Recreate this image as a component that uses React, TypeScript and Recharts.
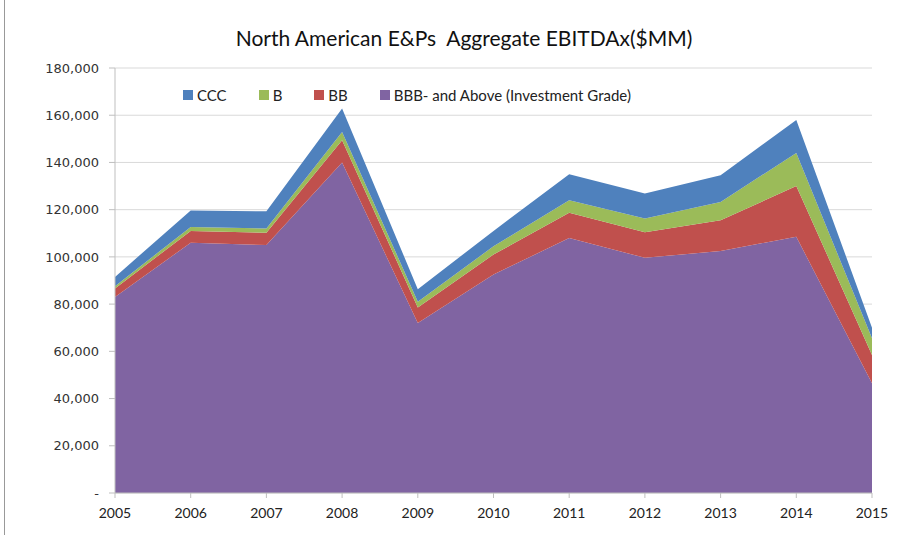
import {
  AreaChart,
  Area,
  XAxis,
  YAxis,
  CartesianGrid,
} from "recharts";

const years = ["2005", "2006", "2007", "2008", "2009", "2010", "2011", "2012", "2013", "2014", "2015"];
const investmentGrade = [83000, 106000, 105000, 140000, 72000, 92500, 108000, 99600, 102500, 108500, 46500];
const bb = [3600, 5000, 5200, 9400, 6600, 8500, 10700, 10800, 13000, 21500, 12000];
const b = [1000, 1700, 1800, 3500, 2400, 3500, 5300, 5900, 7800, 14000, 7000];
const ccc = [3900, 7000, 7300, 10000, 5300, 6500, 11000, 10600, 11300, 14000, 4500];
const yTicks = [0, 20000, 40000, 60000, 80000, 100000, 120000, 140000, 160000, 180000];

const legendItems = [
  { name: "CCC", color: "#4F81BD" },
  { name: "B", color: "#9BBB59" },
  { name: "BB", color: "#C0504D" },
  { name: "BBB- and Above (Investment Grade)", color: "#8064A2" },
];

const data = years.map((y, i) => ({
  year: y,
  ig: investmentGrade[i],
  bb: bb[i],
  b: b[i],
  ccc: ccc[i],
}));

const fmtY = (v: number) => (v === 0 ? "-" : v.toLocaleString("en-US"));

// legend drawn by hand, Excel spacing is uneven
const LegendBox = () => (
  <div
    style={{
      position: "absolute",
      top: 86,
      left: 183,
      display: "flex",
      fontFamily: "Lato",
      fontSize: 15,
      color: "#222",
    }}
  >
    {legendItems.map((it) => (
      <div key={it.name} style={{ display: "flex", alignItems: "center", marginRight: 32 }}>
        <span style={{ width: 10, height: 10, background: it.color, marginRight: 4, display: "inline-block" }} />
        <span>{it.name}</span>
      </div>
    ))}
  </div>
);

export default function App() {
  return (
    <div style={{ position: "absolute", left: 0, top: 0, width: 909, height: 535, background: "#fff" }}>
      <div style={{ position: "absolute", left: 4, top: 0, width: 1, height: 535, background: "#999" }} />
      <div
        style={{
          position: "absolute",
          top: 25,
          left: 164,
          width: 600,
          textAlign: "center",
          fontFamily: "Lato",
          fontSize: 21,
          color: "#111",
          whiteSpace: "pre",
        }}
      >
        {"North American E&Ps  Aggregate EBITDAx($MM)"}
      </div>
      <AreaChart width={909} height={535} data={data} margin={{ top: 68, right: 37, bottom: 10, left: 0 }}>
        <CartesianGrid vertical={false} stroke="#d9d9d9" />
        <XAxis
          dataKey="year"
          stroke="#bfbfbf"
          tickSize={5}
          tickMargin={10}
          height={32}
          tick={{ fill: "#222", fontFamily: "Lato", fontSize: 14 }}
        />
        <YAxis
          width={115}
          domain={[0, 180000]}
          ticks={yTicks}
          tickFormatter={fmtY}
          stroke="#bfbfbf"
          tickSize={6}
          tickMargin={10}
          tick={{ fill: "#333", fontFamily: "DejaVu Sans", fontSize: 13 }}
        />
        <Area dataKey="ig" stackId="1" type="linear" stroke="none" fill="#8064A2" fillOpacity={1} isAnimationActive={false} />
        <Area dataKey="bb" stackId="1" type="linear" stroke="none" fill="#C0504D" fillOpacity={1} isAnimationActive={false} />
        <Area dataKey="b" stackId="1" type="linear" stroke="none" fill="#9BBB59" fillOpacity={1} isAnimationActive={false} />
        <Area dataKey="ccc" stackId="1" type="linear" stroke="none" fill="#4F81BD" fillOpacity={1} isAnimationActive={false} />
      </AreaChart>
      <LegendBox />
    </div>
  );
}
